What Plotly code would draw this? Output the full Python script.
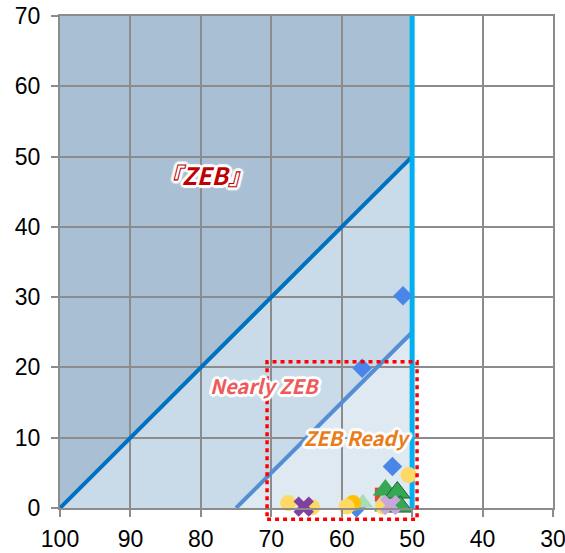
import plotly.graph_objects as go

# Zone boundaries (x = energy reduction %, y = including renewables)
zone_dark_x = [100, 100, 50, 50]
zone_dark_y = [0, 70, 70, 50]
zone_mid_x = [100, 50, 50, 75]
zone_mid_y = [0, 50, 25, 0]
zone_light_x = [75, 50, 50]
zone_light_y = [0, 25, 0]

line_zeb_x = [100, 50]
line_zeb_y = [0, 50]
line_nearly_x = [75, 50]
line_nearly_y = [0, 25]
line_ready_x = [50, 50]
line_ready_y = [0, 70]

box_x = [70.6, 49.3]
box_y = [-1.6, 20.8]

# Data series
blue_x = [51.3, 57.1, 52.8, 57.9]
blue_y = [30.2, 19.9, 5.9, 0.0]
red_x = [54.3]
red_y = [1.9]
lgreen_x = [57.0, 53.8]
lgreen_y = [0.7, 1.3]
green_x = [53.8, 53.6]
green_y = [2.55, 0.3]
dgreen_x = [52.1, 51.7]
dgreen_y = [2.2, 0.2]
orange_x = [58.4]
orange_y = [0.7]
yellow_x = [50.5, 67.6, 64.2, 59.3, 54.1]
yellow_y = [4.7, 0.7, 0.1, 0.2, 0.2]
purple_x = [65.4]
purple_y = [0.2]
lpurple_x = [53.1]
lpurple_y = [0.4]

labels = ["『ZEB』", "Nearly ZEB", "ZEB Ready"]
label_x = [79.4, 70.9, 57.7]
label_y = [47.4, 17.4, 10.1]
label_colors = ["#c00000", "#ee5a5a", "#e87d1e"]
label_sizes = [24, 20, 20]

X_RANGE = [100, 30]
Y_RANGE = [0, 70]


def poly_path(xs, ys):
    return "M " + " L ".join(f"{x},{y}" for x, y in zip(xs, ys)) + " Z"


def to_paper_x(v):
    return (v - X_RANGE[0]) / (X_RANGE[1] - X_RANGE[0])


def to_paper_y(v):
    return (v - Y_RANGE[0]) / (Y_RANGE[1] - Y_RANGE[0])


fig = go.Figure()

shapes = []
for xs, ys, col in [(zone_dark_x, zone_dark_y, "#a9c0d4"),
                    (zone_mid_x, zone_mid_y, "#c9dbe9"),
                    (zone_light_x, zone_light_y, "#dee9f2")]:
    shapes.append(dict(type="path", path=poly_path(xs, ys), xref="x", yref="y",
                       fillcolor=col, line=dict(width=0), layer="below"))

shapes.append(dict(type="rect", xref="paper", yref="paper",
                   x0=to_paper_x(box_x[0]), x1=to_paper_x(box_x[1]),
                   y0=to_paper_y(box_y[0]), y1=to_paper_y(box_y[1]),
                   line=dict(color="#ff0000", width=3.5, dash="4px,4px"),
                   fillcolor="rgba(0,0,0,0)", layer="above"))

fig.add_trace(go.Scatter(x=line_zeb_x, y=line_zeb_y, mode="lines",
                         line=dict(color="#0070c0", width=4), hoverinfo="skip"))
fig.add_trace(go.Scatter(x=line_nearly_x, y=line_nearly_y, mode="lines",
                         line=dict(color="#558ed5", width=4), hoverinfo="skip"))
fig.add_trace(go.Scatter(x=line_ready_x, y=line_ready_y, mode="lines",
                         line=dict(color="#00b0f0", width=5), hoverinfo="skip"))


def pts(x, y, color, symbol, size, line_color=None, line_width=0):
    fig.add_trace(go.Scatter(
        x=x, y=y, mode="markers", cliponaxis=False,
        marker=dict(color=color, symbol=symbol, size=size,
                    line=dict(color=line_color or color, width=line_width))))


pts(blue_x, blue_y, "#4a86e8", "diamond", 15)
pts(red_x, red_y, "#ea4335", "square", 14)
pts(lgreen_x, lgreen_y, "#a8dcb5", "triangle-up", 18)
pts(green_x, green_y, "#34a853", "triangle-up", 22)
pts(dgreen_x, dgreen_y, "#34a853", "triangle-up", 22, "#1e5e30", 1)
pts(orange_x, orange_y, "#ffc000", "circle", 16)
pts(yellow_x, yellow_y, "#ffd966", "circle", 16)
pts(purple_x, purple_y, "#8040a0", "x", 18)
pts(lpurple_x, lpurple_y, "#c9a6dc", "x", 18)

outline = ", ".join(f"white {dx}px {dy}px 1px" for dx, dy in
                    [(2, 0), (-2, 0), (0, 2), (0, -2), (2, 2), (-2, -2), (2, -2), (-2, 2),
                     (3, 0), (-3, 0), (0, 3), (0, -3)])
annotations = []
for t, x, y, c, s in zip(labels, label_x, label_y, label_colors, label_sizes):
    annotations.append(dict(text=t, x=x, y=y, xref="x", yref="y", showarrow=False,
                            font=dict(family="Noto Sans CJK JP", size=s, color=c,
                                      weight="bold", style="italic", shadow=outline)))

axis_common = dict(showgrid=True, gridcolor="#8c8c8c", gridwidth=2,
                   showline=True, linecolor="#8c8c8c", linewidth=2, mirror=True,
                   ticks="outside", ticklen=7, tickcolor="#8c8c8c", tickwidth=2,
                   dtick=10, zeroline=False, automargin=False,
                   ticklabeloverflow="allow",
                   tickfont=dict(family="Liberation Sans", size=23, color="black"))

fig.update_layout(
    width=565, height=553,
    margin=dict(l=60, r=12, t=16, b=45, autoexpand=False),
    plot_bgcolor="white", paper_bgcolor="white",
    showlegend=False,
    shapes=shapes, annotations=annotations,
    xaxis=dict(range=X_RANGE, tick0=30, ticklabelstandoff=2, **axis_common),
    yaxis=dict(range=Y_RANGE, ticklabelstandoff=6, **axis_common),
)

fig.write_html("out.html")
